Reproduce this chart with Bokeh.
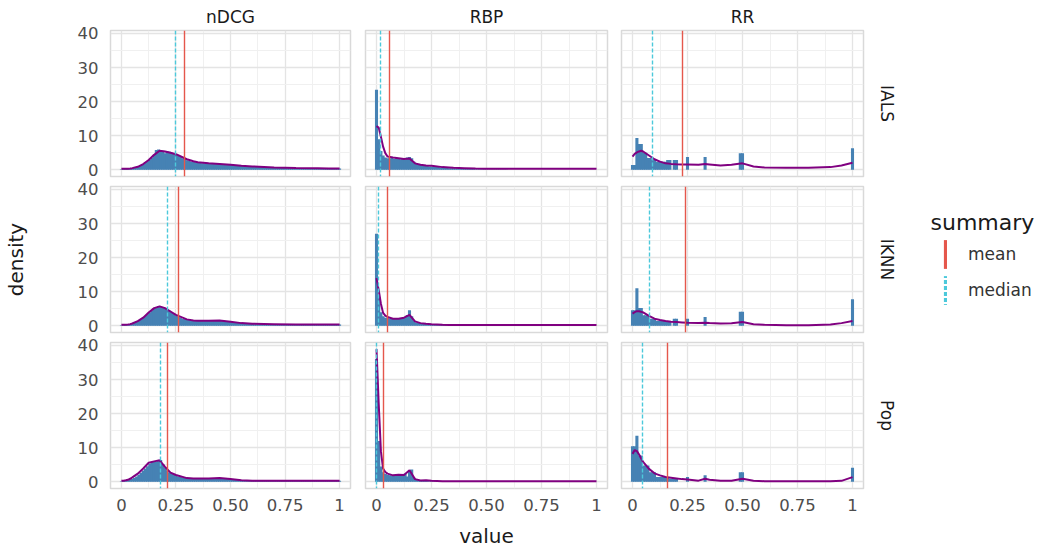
import numpy as np
from bokeh.plotting import figure
from bokeh.layouts import gridplot
from bokeh.models import FixedTicker, Title, Legend, LegendItem, Range1d, Label
from bokeh.embed import file_html
from bokeh.resources import INLINE

# ---------------- data ----------------
metrics = ["nDCG", "RBP", "RR"]
algorithms = ["IALS", "IKNN", "Pop"]
legend_title = "summary"
summary_labels = ["mean", "median"]

x_ticks = [0, 0.25, 0.5, 0.75, 1]
x_tick_labels = ["0", "0.25", "0.50", "0.75", "1"]
x_minor_ticks = [0.125, 0.375, 0.625, 0.875]
y_ticks = [0, 10, 20, 30, 40]
y_minor_ticks = [5, 15, 25, 35]

bin_width = 0.01
bin_centers = np.round(np.arange(101) * bin_width, 2)

hist_ndcg_ials = [0.2, 0.3, 0.3, 0.3, 0.4, 0.5, 0.6, 0.8, 1.0, 1.3,
                  1.7, 2.0, 2.5, 2.9, 3.5, 4.4, 5.8, 6.0, 5.7, 5.6,
                  4.9, 5.4, 5.3, 5.0, 4.8, 4.6, 4.2, 3.8, 3.4, 3.1,
                  2.8, 2.6, 2.4, 2.3, 2.2, 2.1, 2.0, 1.9, 1.9, 1.9,
                  1.9, 1.8, 1.8, 1.8, 1.7, 1.7, 1.7, 1.6, 1.6, 1.5,
                  1.5, 1.4, 1.3, 1.3, 1.2, 1.2, 1.1, 1.1, 1.0, 1.0,
                  1.0, 0.9, 0.9, 0.9, 0.8, 0.8, 0.8, 0.7, 0.7, 0.7,
                  0.7, 0.6, 0.6, 0.6, 0.6, 0.6, 0.5, 0.5, 0.5, 0.5,
                  0.5, 0.5, 0.5, 0.5, 0.5, 0.4, 0.4, 0.4, 0.4, 0.4,
                  0.4, 0.4, 0.4, 0.4, 0.4, 0.4, 0.4, 0.4, 0.4, 0.4,
                  0.4]
hist_ndcg_iknn = [0.2, 0.3, 0.3, 0.4, 0.5, 0.7, 0.9, 1.2, 1.5, 1.9,
                  2.4, 2.9, 3.4, 3.9, 4.5, 5.2, 5.5, 5.8, 5.6, 5.4,
                  5.2, 4.8, 4.4, 3.9, 3.5, 3.0, 2.7, 2.4, 2.1, 2.0,
                  1.9, 1.8, 1.7, 1.6, 1.6, 1.5, 1.5, 1.5, 1.5, 1.5,
                  1.5, 1.5, 1.6, 1.6, 1.6, 1.6, 1.5, 1.5, 1.4, 1.3,
                  1.2, 1.1, 1.0, 0.9, 0.9, 0.8, 0.7, 0.7, 0.6, 0.6,
                  0.6, 0.5, 0.5, 0.5, 0.5, 0.5, 0.5, 0.5, 0.5, 0.5,
                  0.5, 0.5, 0.5, 0.4, 0.4, 0.4, 0.4, 0.4, 0.4, 0.4,
                  0.4, 0.4, 0.4, 0.4, 0.4, 0.4, 0.4, 0.4, 0.4, 0.4,
                  0.4, 0.4, 0.4, 0.4, 0.4, 0.4, 0.4, 0.4, 0.4, 0.4,
                  0.4]
hist_ndcg_pop = [0.2, 0.3, 0.4, 0.5, 0.7, 0.9, 1.2, 1.6, 2.1, 2.7,
                 3.3, 3.9, 4.6, 5.3, 5.8, 5.9, 6.0, 6.3, 6.4, 5.2,
                 4.2, 3.4, 2.7, 2.3, 2.0, 1.8, 1.6, 1.4, 1.3, 1.2,
                 1.1, 1.1, 1.0, 1.0, 1.0, 1.0, 1.0, 1.0, 1.0, 1.0,
                 1.0, 1.0, 1.1, 1.1, 1.1, 1.1, 1.0, 1.0, 0.9, 0.9,
                 0.8, 0.7, 0.6, 0.6, 0.5, 0.5, 0.4, 0.4, 0.4, 0.3,
                 0.3, 0.3, 0.3, 0.3, 0.3, 0.3, 0.3, 0.3, 0.3, 0.3,
                 0.3, 0.3, 0.3, 0.3, 0.3, 0.3, 0.3, 0.3, 0.3, 0.3,
                 0.3, 0.3, 0.3, 0.3, 0.3, 0.3, 0.3, 0.3, 0.3, 0.3,
                 0.3, 0.3, 0.3, 0.3, 0.3, 0.3, 0.3, 0.3, 0.3, 0.3,
                 0.3]
hist_rbp_ials = [23.5, 9.0, 5.5, 4.2, 3.6, 3.4, 3.3, 3.5, 3.2, 3.4,
                 3.3, 3.1, 3.2, 3.0, 3.6, 3.8, 3.4, 2.4, 2.0, 1.7,
                 1.5, 1.3, 1.2, 1.1, 1.0, 0.9, 0.9, 0.8, 0.8, 0.7,
                 0.7, 0.6, 0.6, 0.5, 0.5, 0.5, 0.4, 0.4, 0.4, 0.4,
                 0.3, 0.3, 0.3, 0.3, 0.3, 0.2, 0.2, 0.2, 0.2, 0.2,
                 0.1, 0.1, 0.1, 0.1, 0.1, 0.1, 0.1, 0.1, 0.1, 0.1,
                 0, 0, 0, 0, 0, 0, 0, 0, 0, 0,
                 0, 0, 0, 0, 0, 0, 0, 0, 0, 0,
                 0, 0, 0, 0, 0, 0, 0, 0, 0, 0,
                 0, 0, 0, 0, 0, 0, 0, 0, 0, 0,
                 0]
hist_rbp_iknn = [27.0, 8.5, 4.0, 2.8, 2.4, 2.2, 2.1, 2.0, 2.1, 2.0,
                 2.1, 2.2, 2.4, 2.6, 3.2, 4.6, 2.8, 1.4, 1.0, 0.8,
                 0.7, 0.6, 0.6, 0.5, 0.5, 0.4, 0.4, 0.4, 0.3, 0.3,
                 0.3, 0.3, 0.2, 0.2, 0.2, 0.2, 0.2, 0.2, 0.2, 0.2,
                 0.2, 0.2, 0.1, 0.1, 0.1, 0.1, 0.1, 0.1, 0.1, 0.1,
                 0.1, 0.1, 0.1, 0.1, 0.1, 0.1, 0.1, 0.1, 0.1, 0.1,
                 0, 0, 0, 0, 0, 0, 0, 0, 0, 0,
                 0, 0, 0, 0, 0, 0, 0, 0, 0, 0,
                 0, 0, 0, 0, 0, 0, 0, 0, 0, 0,
                 0, 0, 0, 0, 0, 0, 0, 0, 0, 0,
                 0]
hist_rbp_pop = [36.0, 12.0, 4.5, 2.8, 2.3, 2.0, 1.9, 1.8, 1.9, 1.8,
                2.3, 1.7, 1.8, 2.4, 1.6, 3.0, 3.6, 1.2, 0.6, 0.4,
                0.3, 0.5, 0.5, 0.3, 0.2, 0.2, 0.2, 0.1, 0.1, 0.1,
                0.1, 0.1, 0.1, 0.1, 0.1, 0.1, 0.1, 0.1, 0.1, 0.1,
                0.1, 0.1, 0.1, 0.1, 0.1, 0, 0, 0, 0, 0,
                0, 0, 0, 0, 0, 0, 0, 0, 0, 0,
                0, 0, 0, 0, 0, 0, 0, 0, 0, 0,
                0, 0, 0, 0, 0, 0, 0, 0, 0, 0,
                0, 0, 0, 0, 0, 0, 0, 0, 0, 0,
                0, 0, 0, 0, 0, 0, 0, 0, 0, 0,
                0]
hist_rr_ials = [1.4, 1.4, 9.3, 7.6, 7.6, 5.0, 5.0, 3.5, 3.5, 3.0,
                3.0, 2.4, 2.4, 2.4, 2.4, 2.4, 2.9, 2.9, 0, 2.9,
                2.9, 0, 0, 0, 0, 3.8, 0, 0, 0, 0,
                0, 0, 0, 3.8, 0, 0, 0, 0, 0, 0,
                0, 0, 0, 0, 0, 0, 0, 0, 0, 4.9,
                4.9, 0, 0, 0, 0, 0, 0, 0, 0, 0,
                0, 0, 0, 0, 0, 0, 0, 0, 0, 0,
                0, 0, 0, 0, 0, 0, 0, 0, 0, 0,
                0, 0, 0, 0, 0, 0, 0, 0, 0, 0,
                0, 0, 0, 0, 0, 0, 0, 0, 0, 0,
                6.3]
hist_rr_iknn = [4.6, 4.6, 11.0, 5.2, 5.2, 3.1, 3.1, 3.1, 2.1, 2.1,
                2.1, 1.4, 1.4, 1.4, 1.4, 1.4, 1.4, 1.4, 0, 2.1,
                2.1, 0, 0, 0, 0, 2.1, 0, 0, 0, 0,
                0, 0, 0, 2.6, 0, 0, 0, 0, 0, 0,
                0, 0, 0, 0, 0, 0, 0, 0, 0, 4.1,
                4.1, 0, 0, 0, 0, 0, 0, 0, 0, 0,
                0, 0, 0, 0, 0, 0, 0, 0, 0, 0,
                0, 0, 0, 0, 0, 0, 0, 0, 0, 0,
                0, 0, 0, 0, 0, 0, 0, 0, 0, 0,
                0, 0, 0, 0, 0, 0, 0, 0, 0, 0,
                7.8]
hist_rr_pop = [10.4, 10.4, 13.5, 7.7, 7.7, 4.8, 4.8, 4.8, 2.8, 2.8,
               2.8, 1.4, 1.4, 1.4, 1.4, 1.4, 1.4, 0.9, 0.9, 0.9,
               0.9, 0, 0, 0, 0, 1.4, 0, 0, 0, 0,
               0, 0, 0, 1.9, 0, 0, 0, 0, 0, 0,
               0, 0, 0, 0, 0, 0, 0, 0, 0, 2.8,
               2.8, 0, 0, 0, 0, 0, 0, 0, 0, 0,
               0, 0, 0, 0, 0, 0, 0, 0, 0, 0,
               0, 0, 0, 0, 0, 0, 0, 0, 0, 0,
               0, 0, 0, 0, 0, 0, 0, 0, 0, 0,
               0, 0, 0, 0, 0, 0, 0, 0, 0, 0,
               4.1]

density_x = [0, 0.01, 0.02, 0.03, 0.04, 0.05, 0.075, 0.1, 0.125, 0.15, 0.175, 0.2, 0.225,
             0.25, 0.3, 0.33, 0.35, 0.4, 0.45, 0.5, 0.55, 0.6, 0.7, 0.8, 0.9, 0.95, 1.0]
dens_ndcg_ials = [0.3, 0.3, 0.3, 0.35, 0.4, 0.5, 0.9, 1.7, 2.9, 4.4, 5.6, 5.4, 5.0,
                  4.6, 3.1, 2.5, 2.2, 1.9, 1.75, 1.5, 1.2, 1.0, 0.7, 0.55, 0.45, 0.4, 0.4]
dens_ndcg_iknn = [0.3, 0.3, 0.35, 0.4, 0.5, 0.7, 1.4, 2.4, 3.9, 5.2, 5.7, 5.2, 4.2,
                  3.2, 1.9, 1.6, 1.5, 1.5, 1.6, 1.2, 0.8, 0.6, 0.5, 0.4, 0.4, 0.4, 0.4]
dens_ndcg_pop = [0.3, 0.35, 0.45, 0.6, 0.9, 1.3, 2.4, 3.9, 5.6, 6.0, 6.3, 4.4, 2.7,
                 2.0, 1.1, 1.0, 1.0, 1.0, 1.1, 0.8, 0.5, 0.35, 0.3, 0.3, 0.3, 0.3, 0.3]
dens_rbp_ials = [12.8, 12.4, 9.7, 6.8, 4.9, 3.9, 3.6, 3.4, 3.2, 3.3, 1.9, 1.5, 1.3,
                 1.2, 0.8, 0.7, 0.6, 0.5, 0.4, 0.35, 0.3, 0.3, 0.3, 0.3, 0.3, 0.3, 0.3]
dens_rbp_iknn = [14.0, 10.5, 6.5, 3.8, 3.0, 2.6, 2.1, 2.1, 2.4, 3.2, 1.3, 0.8, 0.6,
                 0.45, 0.3, 0.25, 0.25, 0.25, 0.25, 0.25, 0.25, 0.25, 0.25, 0.25, 0.25, 0.25, 0.25]
dens_rbp_pop = [38.9, 23.0, 9.0, 3.9, 2.9, 2.4, 1.9, 2.1, 2.0, 3.4, 0.8, 0.4, 0.5,
                0.3, 0.2, 0.15, 0.15, 0.15, 0.15, 0.15, 0.15, 0.15, 0.15, 0.15, 0.15, 0.15, 0.15]
dens_rr_ials = [3.9, 4.7, 5.1, 5.4, 5.6, 5.3, 4.2, 3.1, 2.4, 1.9, 1.75, 1.65, 1.6,
                1.6, 1.5, 1.7, 1.6, 1.3, 1.5, 1.9, 1.0, 0.7, 0.6, 0.6, 0.8, 1.3, 2.1]
dens_rr_iknn = [3.6, 4.0, 4.3, 4.3, 4.1, 3.9, 2.9, 2.1, 1.7, 1.4, 1.2, 1.1, 1.0,
                0.9, 0.8, 0.9, 0.8, 0.7, 0.75, 1.1, 0.5, 0.3, 0.2, 0.2, 0.4, 0.8, 1.4]
dens_rr_pop = [8.2, 9.3, 9.0, 8.0, 6.8, 5.7, 3.8, 2.5, 1.9, 1.4, 1.2, 1.0, 0.8,
               0.7, 0.35, 0.9, 0.6, 0.3, 0.35, 0.9, 0.3, 0.2, 0.2, 0.2, 0.2, 0.3, 1.4]

# summary values, ordered as algorithms (IALS, IKNN, Pop)
mean_ndcg = [0.289, 0.262, 0.212]
median_ndcg = [0.248, 0.212, 0.177]
mean_rbp = [0.060, 0.050, 0.031]
median_rbp = [0.016, 0.008, 0.0]
mean_rr = [0.226, 0.243, 0.157]
median_rr = [0.092, 0.078, 0.044]

hists = {
    "nDCG": [hist_ndcg_ials, hist_ndcg_iknn, hist_ndcg_pop],
    "RBP": [hist_rbp_ials, hist_rbp_iknn, hist_rbp_pop],
    "RR": [hist_rr_ials, hist_rr_iknn, hist_rr_pop],
}
dens = {
    "nDCG": [dens_ndcg_ials, dens_ndcg_iknn, dens_ndcg_pop],
    "RBP": [dens_rbp_ials, dens_rbp_iknn, dens_rbp_pop],
    "RR": [dens_rr_ials, dens_rr_iknn, dens_rr_pop],
}
means = {"nDCG": mean_ndcg, "RBP": mean_rbp, "RR": mean_rr}
medians = {"nDCG": median_ndcg, "RBP": median_rbp, "RR": median_rr}

# ---------------- style ----------------
FONT = "DejaVu Sans"
BAR = "#4682b4"
DENS = "#800080"
MEAN_C = "#e5574c"
MED_C = "#4cc9db"
GRID_MAJ = "#e4e4e4"
GRID_MIN = "#f0f0f0"
FW, FH = 242, 146
BL = [108, 1, 1]
BR = [14, 13, 50]
BT = [30, 7, 7]
BB = [3, 3, 62]
LEG_W = 1044 - (BL[0] + BR[0] + BL[1] + BR[1] + BL[2] + BR[2] + 3 * FW)

rows = []
for i, algo in enumerate(algorithms):
    row = []
    for j, metric in enumerate(metrics):
        p = figure(width=BL[j] + FW + BR[j], height=BT[i] + FH + BB[i],
                   x_range=Range1d(-0.05, 1.05), y_range=Range1d(-1.95, 40.85),
                   output_backend="svg", toolbar_location=None, tools="",
                   title=None,
                   x_axis_location="below" if i == 2 else None,
                   y_axis_location="left" if j == 0 else None,
                   min_border_left=BL[j], min_border_right=BR[j],
                   min_border_top=BT[i], min_border_bottom=BB[i])
        p.background_fill_color = "white"
        p.border_fill_color = "white"
        p.outline_line_color = "#d9d9d9"
        p.outline_line_width = 1.5

        xt = FixedTicker(ticks=x_ticks, minor_ticks=x_minor_ticks)
        yt = FixedTicker(ticks=y_ticks, minor_ticks=y_minor_ticks)
        for g, t in ((p.xgrid, xt), (p.ygrid, yt)):
            g.ticker = t
            g.grid_line_color = GRID_MAJ
            g.grid_line_width = 1.3
            g.minor_grid_line_color = GRID_MIN
            g.minor_grid_line_width = 1.0

        for ax in list(p.xaxis) + list(p.yaxis):
            ax.axis_line_color = None
            ax.major_tick_line_color = None
            ax.minor_tick_line_color = None
            ax.major_tick_out = 0
            ax.major_tick_in = 0
            ax.minor_tick_out = 0
            ax.minor_tick_in = 0
            ax.major_label_text_font = FONT
            ax.major_label_text_font_size = "16.5px"
            ax.major_label_text_color = "#4d4d4d"
            ax.axis_label_text_font = FONT
            ax.axis_label_text_font_size = "20px"
            ax.axis_label_text_font_style = "normal"
            ax.axis_label_text_color = "#1a1a1a"
        for ax in p.xaxis:
            ax.ticker = xt
            ax.major_label_overrides = dict(zip(x_ticks, x_tick_labels))
            ax.major_label_standoff = 10
            ax.axis_label_standoff = 10
        for ax in p.yaxis:
            ax.ticker = yt
            ax.major_label_standoff = 12
            ax.axis_label_standoff = 47

        if i == 1 and j == 0:
            p.yaxis[0].axis_label = "density"
        if i == 2 and j == 1:
            p.xaxis[0].axis_label = "value"

        if i == 0:
            p.add_layout(Title(text=metric, align="center", text_font=FONT,
                               text_font_size="17px", text_font_style="normal",
                               text_color="#1a1a1a", standoff=7), "above")
        if j == 2:
            p.add_layout(Title(text=algo, align="center", text_font=FONT,
                               text_font_size="17px", text_font_style="normal",
                               text_color="#1a1a1a", standoff=26), "right")

        p.vbar(x=bin_centers, top=hists[metric][i], width=bin_width * 1.4,
               fill_color=BAR, line_color=None)
        p.line(density_x, dens[metric][i], line_color=DENS, line_width=2)
        p.vspan(x=[means[metric][i]], line_color=MEAN_C, line_width=1.4)
        p.vspan(x=[medians[metric][i]], line_color=MED_C, line_width=1.4,
                line_dash="4 2")
        row.append(p)
    rows.append(row)

# ---------------- legend panel ----------------
leg = figure(width=LEG_W, height=BT[1] + FH + BB[1],
             x_range=Range1d(-0.05, 1.05), y_range=Range1d(-1.95, 40.85),
             output_backend="svg", toolbar_location=None, tools="", title=None,
             x_axis_location=None, y_axis_location=None,
             min_border_left=0, min_border_right=0,
             min_border_top=BT[1], min_border_bottom=BB[1])
leg.grid.visible = False
leg.outline_line_color = None
leg.background_fill_color = "white"
leg.border_fill_color = "white"
leg.add_layout(Label(x=17, y=110, x_units="screen", y_units="screen",
                     text=legend_title, text_font=FONT, text_font_size="22px",
                     text_color="#1a1a1a", text_baseline="middle",
                     text_align="left"))
# zero-height keys carrying the summary values (invisible in the panel)
r_mean = leg.vbar(x=[mean_rr[1]], top=[0], bottom=[0], width=0,
                  fill_color=MEAN_C, line_color=None)
r_med = leg.vbar(x=[median_rr[1]], top=[0], bottom=[0], width=0,
                 fill_color=None, line_color=None,
                 hatch_pattern="-", hatch_color=MED_C, hatch_scale=6,
                 hatch_weight=4, hatch_alpha=1.0)
legend = Legend(
    items=[LegendItem(label=summary_labels[0], renderers=[r_mean]),
           LegendItem(label=summary_labels[1], renderers=[r_med])],
    location=(30, 24), orientation="vertical",
    label_text_font=FONT, label_text_font_size="17px",
    label_text_color="#333333",
    glyph_width=4, glyph_height=36, label_standoff=21,
    spacing=0, padding=0, margin=0,
    border_line_color=None, background_fill_alpha=0)
leg.add_layout(legend)

rows[0].append(None)
rows[1].append(leg)
rows[2].append(None)

grid = gridplot(rows, toolbar_location=None)
open("out.html", "w").write(file_html(grid, INLINE))
